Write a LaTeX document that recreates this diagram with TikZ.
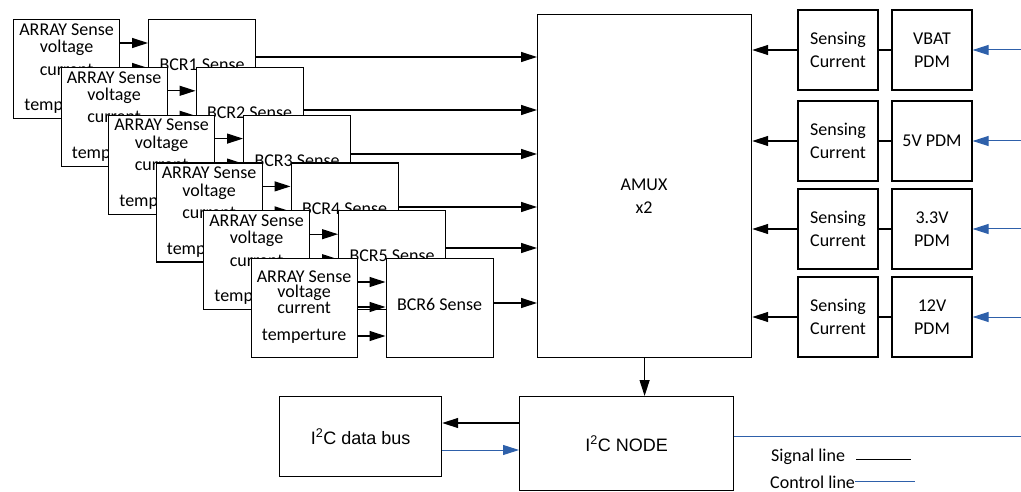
\documentclass[tikz,border=0pt]{standalone}
\usepackage{fontspec}
\setmainfont{Carlito}
\newfontfamily\arialfont{Liberation Sans}
\usetikzlibrary{arrows.meta}
\usetikzlibrary{calc}
\definecolor{ctlblue}{RGB}{46,96,170}
\tikzset{box/.style={draw=black, fill=white, line width=1.2pt, inner sep=0pt, anchor=north west},
%signal and control arrows
sig/.style={line width=1.2pt, -{Triangle[length=16pt,width=10pt]}},
ctl/.style={draw=ctlblue, line width=1pt, -{Triangle[length=16pt,width=10pt]}},
lbl/.style={font=\fontsize{18}{23}\selectfont, align=center, inner sep=0pt}}

\begin{document}
\begin{tikzpicture}[x=1pt,y=-1pt]
\useasboundingbox (0,0) rectangle (1021,492);

% AMUX
\node[box, minimum width=214pt, minimum height=343pt] (amux) at (537,14) {};
\node[lbl] (amuxtxt) at (644,196) {AMUX\\x2};

% ARRAY sense and BCR sense, stacked
\foreach \i/\oy/\ta/\tb/\tc/\td [evaluate=\i as \x using 13+47.5*(\i-1), evaluate=\i as \y using 19+47.8*(\i-1)] in
   {1/57/10.5/29/50.5/87.5, 2/110/10.5/29/50.5/87.5, 3/154/10.5/29/50.5/87.5,
    4/207/10.5/29/50.5/87.5, 5/248/10.5/29/50.5/87.5, 6/303/19/35/50/78}{
  \node[box, minimum width=106pt, minimum height=99pt] (arr\i) at (\x,\y) {};
  \node[lbl] (arr\i-a) at ($(arr\i.north)+(0,\ta)$) {ARRAY Sense};
  \node[lbl] (arr\i-b) at ($(arr\i.north)+(0,\tb)$) {voltage};
  \node[lbl] (arr\i-c) at ($(arr\i.north)+(0,\tc)$) {current};
  \node[lbl] (arr\i-d) at ($(arr\i.north)+(0,\td)$) {temperture};
  \node[box, minimum width=107pt, minimum height=99pt] (bcr\i) at (\x+135,\y) {};
  \node[lbl] (bcr\i-t) at ($(bcr\i.north)+(0,46)$) {BCR\i{} Sense};
  \foreach \r in {24,49,78}
     \draw[sig] ($(arr\i.north east)+(0,\r)$) -- ($(bcr\i.north west)+(0,\r)$);
  \coordinate (out\i) at (0,\oy);
  \draw[sig] (bcr\i.east |- out\i) -- (amux.west |- out\i);
}

% current sensing and PDMs
\foreach \j/\cy/\pdm in {1/50/{VBAT\\PDM}, 2/141/{5V PDM}, 3/229/{3.3V\\PDM}, 4/317/{12V\\PDM}}{
  \node[box, lbl, anchor=center, minimum width=80pt, minimum height=80pt] (sens\j) at (838,\cy) {Sensing\\Current};
  \node[box, lbl, anchor=center, minimum width=80pt, minimum height=80pt] (pdm\j) at (932,\cy) {\pdm};
  \draw[line width=1.2pt] (sens\j) -- (pdm\j);
  \draw[sig] (sens\j.west) -- (amux.east |- sens\j.west);
  \coordinate (ctl\j) at (1021,\cy);
  \draw[ctl] (ctl\j) -- (pdm\j.east);
}

% I2C
\node[box, font=\arialfont\fontsize{18}{22}\selectfont, minimum width=162pt, minimum height=80pt] (bus) at (279,396) {I\textsuperscript{2}C data bus};
\node[box, font=\arialfont\fontsize{18}{22}\selectfont, minimum width=214pt, minimum height=94pt] (i2cnode) at (519,396) {I\textsuperscript{2}C NODE};
\draw[sig] (amux.south) -- (i2cnode.north -| amux.south);
\coordinate (busout) at (0,423);
\coordinate (busin) at (0,450);
\draw[sig] (i2cnode.west |- busout) -- (bus.east |- busout);
\draw[ctl] (bus.east |- busin) -- (i2cnode.west |- busin);
\coordinate (ctlend) at (1021,436);
\draw[ctlblue, line width=1pt] (i2cnode.east |- ctlend) -- (ctlend);

%legend
\node[lbl, anchor=west] (sigtxt) at (771,457) {Signal line};
\node[lbl, anchor=west] (ctltxt) at (770,482) {Control line};
\draw[line width=1pt] ([xshift=11pt,yshift=-2pt]sigtxt.east) -- ++(55,0);
\draw[ctlblue, line width=1pt] ([yshift=1pt]ctltxt.east) -- ++(60,0);

\end{tikzpicture}
\end{document}
